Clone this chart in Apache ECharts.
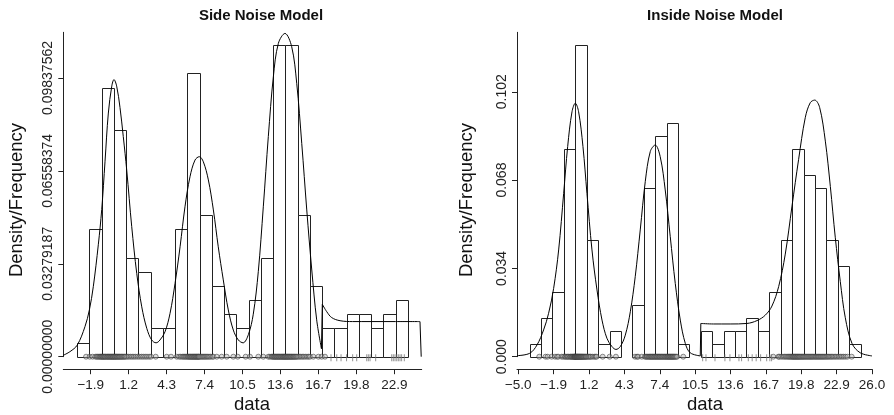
<!DOCTYPE html>
<html><head><meta charset="utf-8">
<script src="https://cdn.jsdelivr.net/npm/echarts@6/dist/echarts.min.js"></script>
<style>html,body{margin:0;padding:0;background:#fff}#c{width:894px;height:415px}</style>
</head><body><div id="c"></div>
<script>
// ---------- tick labels ----------
const sideXTicks = [-1.9, 1.2, 4.3, 7.4, 10.5, 13.6, 16.7, 19.8, 22.9];
const insideXTicks = [-5.0, -1.9, 1.2, 4.3, 7.4, 10.5, 13.6, 16.7, 19.8, 22.9, 26.0];
const sideYTicks = [0, 0.03279187, 0.06558374, 0.09837562];
const insideYTicks = [0, 0.034, 0.068, 0.102];

// ---------- Side Noise Model : histogram (bins of width 1) ----------
const sideBinStart = [-3,-2,-1,0,1,2,3,4,5,6,7,8,9,10,11,12,13,14,15,16,17,18,19,20,21,22,23];
const sideDensity  = [0.005,0.045,0.095,0.080,0.035,0.030,0.010,0.010,0.045,0.100,0.050,0.025,0.015,0.010,0.020,0.035,0.110,0.110,0.050,0.025,0.010,0.010,0.015,0.015,0.010,0.015,0.020];

// ---------- Inside Noise Model : histogram ----------
const insideBinStart = [-4,-3,-2,-1,0,1,2,3,4,5,6,7,8,9,10,11,12,13,14,15,16,17,18,19,20,21,22,23,24];
const insideDensity  = [0.005,0.015,0.025,0.080,0.120,0.045,0.005,0.010,0,0.020,0.065,0.085,0.090,0.005,0,0.010,0.005,0.010,0.010,0.015,0.010,0.025,0.045,0.080,0.070,0.065,0.045,0.035,0.005];

// ---------- fitted density curves ----------
const sideCurveA = [[-4.14,0.0005],[-3.59,0.0018],[-3.0,0.0041],[-2.37,0.0106],[-2.01,0.0165],[-1.69,0.0247],[-1.28,0.0395],[-1.0,0.0520],[-0.73,0.0690],[-0.46,0.0860],[-0.18,0.0955],[0.0,0.0978],[0.22,0.0955],[0.49,0.0880],[0.76,0.0777],[1.04,0.0659],[1.45,0.0459],[1.86,0.0294],[2.27,0.0176],[2.68,0.0100],[3.08,0.0059],[3.44,0.0049],[3.76,0.0059],[4.17,0.0088],[4.58,0.0153],[4.99,0.0259],[5.4,0.0388],[5.8,0.0529],[6.21,0.0635],[6.62,0.0694],[6.97,0.0706],[7.3,0.0688],[7.71,0.0624],[8.12,0.0518],[8.52,0.0388],[8.93,0.0271],[9.34,0.0165],[9.75,0.0094],[10.16,0.0059],[10.55,0.0049],[10.98,0.0078],[11.38,0.0150],[11.79,0.0300],[12.2,0.0529],[12.61,0.0777],[13.02,0.0988],[13.43,0.1106],[13.97,0.1141],[14.52,0.1094],[14.93,0.0965],[15.34,0.0753],[15.75,0.0518],[16.16,0.0306],[16.56,0.0130],[16.95,0.0028]];
const sideCurveB = [[17.02,0.0185],[17.38,0.0159],[17.79,0.0138],[18.47,0.0127],[19.5,0.0124],[21.0,0.0124],[23.0,0.0124],[25.0,0.0124]];
const sideJumps = [[16.95,0.0028],[17.02,0.0185],null,[25.0,0.0124],[25.1,0.0]];

const insideCurveA = [[-5.1,0.0004],[-4.0,0.0013],[-3.36,0.0045],[-2.78,0.0103],[-2.34,0.0167],[-1.9,0.0263],[-1.46,0.0411],[-1.02,0.0629],[-0.67,0.0809],[-0.29,0.0943],[0.0,0.0976],[0.29,0.0943],[0.67,0.0809],[1.02,0.0629],[1.46,0.0411],[1.9,0.0257],[2.34,0.0141],[2.77,0.0071],[3.21,0.0039],[3.56,0.0028],[3.94,0.0039],[4.38,0.0083],[4.82,0.0173],[5.25,0.0308],[5.69,0.0488],[6.13,0.0674],[6.57,0.0790],[7.0,0.0815],[7.44,0.0770],[7.88,0.0642],[8.32,0.0462],[8.76,0.0282],[9.2,0.0141],[9.64,0.0051],[10.07,0.0015],[10.95,0.0003]];
const insideCurveB = [[11.0,0.0128],[12.1,0.0126],[13.57,0.0126],[15.03,0.0128],[15.92,0.0139],[16.65,0.0160],[17.23,0.0195],[17.82,0.0270],[18.4,0.0395],[18.99,0.0580],[19.57,0.0760],[20.15,0.0920],[20.59,0.0978],[20.98,0.0988],[21.41,0.0960],[21.91,0.0830],[22.35,0.0655],[22.78,0.0460],[23.22,0.0290],[23.66,0.0150],[24.25,0.0051],[24.97,0.0015],[26.0,0.0003]];
const insideJumps = [[10.95,0.0003],[11.0,0.0128]];

// ---------- rug: cluster points (circles) and noise points (ticks) ----------
const sideRug = [-2.28,-1.98,-1.74,-1.52,-1.41,-1.33,-1.24,-1.16,-1.09,-1.03,-0.97,-0.92,-0.86,-0.81,-0.75,-0.7,-0.64,-0.57,-0.52,-0.46,-0.41,-0.35,-0.29,-0.24,-0.19,-0.13,-0.08,-0.04,0.02,0.07,0.12,0.18,0.23,0.29,0.35,0.41,0.46,0.53,0.6,0.66,0.73,0.81,0.88,0.96,1.08,1.21,1.36,1.49,1.63,1.77,1.93,2.08,2.24,2.39,2.55,2.7,2.87,3.02,3.41,
 4.31,4.66,5.13,5.32,5.45,5.58,5.67,5.76,5.85,5.93,6.02,6.08,6.14,6.2,6.26,6.31,6.37,6.42,6.48,6.53,6.58,6.63,6.68,6.73,6.78,6.83,6.88,6.92,6.96,7.03,7.12,7.21,7.3,7.39,7.48,7.58,7.67,7.77,7.88,8.02,8.12,8.4,8.8,9.21,9.75,10.11,10.76,
 11.11,11.79,12.2,12.61,12.74,12.88,12.95,13.02,13.08,13.13,13.19,13.24,13.3,13.35,13.41,13.46,13.52,13.57,13.63,13.68,13.74,13.79,13.84,13.89,13.94,13.98,14.03,14.08,14.13,14.18,14.23,14.28,14.34,14.39,14.45,14.5,14.56,14.62,14.68,14.74,14.8,14.87,14.94,15.03,15.14,15.26,15.38,15.5,15.63,15.77,15.9,16.02,16.29,16.7,16.97,17.24];
const sideNoise = [17.73,18.2,18.55,19.0,19.5,19.83,20.65,20.78,20.92,21.38,22.69,22.82,22.96,23.1,23.23,23.37,23.5,23.72];

const insideRug = [-3.16,-2.61,-2.42,-2.07,-1.78,-1.6,-1.49,-1.2,-1.06,-0.91,-0.84,-0.73,-0.66,-0.58,-0.47,-0.42,-0.35,-0.29,-0.24,-0.18,-0.13,-0.09,-0.06,-0.03,-0.01,0.02,0.05,0.09,0.12,0.15,0.19,0.22,0.26,0.3,0.33,0.37,0.41,0.45,0.49,0.53,0.57,0.62,0.66,0.71,0.76,0.81,0.87,0.92,0.97,1.05,1.13,1.21,1.3,1.37,1.52,1.66,1.78,1.87,2.4,3.01,3.56,
 5.23,5.41,5.5,5.83,6.1,6.19,6.27,6.35,6.44,6.5,6.57,6.63,6.7,6.76,6.82,6.89,6.95,7.02,7.08,7.14,7.2,7.27,7.33,7.39,7.45,7.52,7.58,7.65,7.71,7.78,7.84,7.91,7.97,8.03,8.09,8.14,8.2,8.25,8.31,8.36,8.42,8.47,8.53,8.58,8.64,8.7,8.77,8.84,8.92,9.46,
 17.35,17.79,17.88,18.05,18.2,18.33,18.45,18.56,18.66,18.75,18.84,18.92,19.0,19.06,19.12,19.18,19.24,19.3,19.36,19.42,19.48,19.54,19.6,19.66,19.73,19.8,19.87,19.94,20.01,20.09,20.17,20.25,20.33,20.41,20.49,20.57,20.65,20.73,20.81,20.9,20.99,21.07,21.15,21.24,21.32,21.4,21.49,21.57,21.66,21.74,21.83,21.92,22.02,22.12,22.22,22.33,22.44,22.56,22.68,22.81,22.94,23.08,23.22,23.37,23.52,23.68,23.85,24.22];
const insideNoise = [11.16,11.45,12.24,13.11,13.55,14.34,14.57,15.16,15.5,15.85,16.24,16.77,17.05,17.2];

// ---------- build ----------
const FONT = 'Liberation Sans, Arial, Helvetica, sans-serif';
const INK = '#222';

function histItem(params, api) {
  const x0 = api.value(0), x1 = api.value(1), h = api.value(2);
  if (!(h > 0)) return null;
  const p0 = api.coord([x0, h]);
  const p1 = api.coord([x1, 0]);
  return {
    type: 'rect',
    shape: { x: Math.round(p0[0]) + 0.5, y: Math.round(p0[1]) + 0.5, width: Math.round(p1[0]) - Math.round(p0[0]), height: Math.round(p1[1]) - Math.round(p0[1]) },
    style: { fill: '#fff', stroke: INK, lineWidth: 1 }
  };
}
function fmtX(v) { return (v < 0 ? '\u2212' : '') + Math.abs(v).toFixed(1); }

function xAxisCfg(g, min, max, ticks) {
  return {
    gridIndex: g, type: 'value', min: min, max: max, offset: 12.5,
    axisLine: { show: true, onZero: false, lineStyle: { color: INK, width: 1 } },
    axisTick: { show: true, customValues: ticks, length: 5, lineStyle: { color: INK } },
    axisLabel: { customValues: ticks, formatter: fmtX, fontSize: 13.5, color: INK, fontFamily: FONT, margin: 9, hideOverlap: false },
    splitLine: { show: false }
  };
}
function yAxisCfg(g, max, ticks, dec) {
  return {
    gridIndex: g, type: 'value', min: 0, max: max,
    axisLine: { show: true, onZero: false, lineStyle: { color: INK, width: 1 } },
    axisTick: { show: true, customValues: ticks, length: 5, lineStyle: { color: INK } },
    axisLabel: { customValues: ticks, formatter: v => v.toFixed(dec), rotate: 90, fontSize: 14, color: INK, fontFamily: FONT, margin: 8, hideOverlap: false },
    splitLine: { show: false }
  };
}

function panelSeries(idx, binStart, dens, curveA, curveB, jumps, rug, noise) {
  return [
    { type: 'custom', xAxisIndex: idx, yAxisIndex: idx, renderItem: histItem, clip: false,
      data: binStart.map((b, i) => [b, b + 1, dens[i]]), z: 1 },
    { type: 'line', xAxisIndex: idx, yAxisIndex: idx, data: curveA, smooth: 0.35, showSymbol: false,
      lineStyle: { color: '#000', width: 1 }, z: 3 },
    { type: 'line', xAxisIndex: idx, yAxisIndex: idx, data: curveB, smooth: 0.35, showSymbol: false,
      lineStyle: { color: '#000', width: 1 }, z: 3 },
    { type: 'line', xAxisIndex: idx, yAxisIndex: idx, data: jumps, smooth: false, showSymbol: false, connectNulls: false,
      lineStyle: { color: '#000', width: 1 }, z: 3 },
    { type: 'scatter', xAxisIndex: idx, yAxisIndex: idx, data: rug.map(v => [v, 0]), symbol: 'circle', symbolSize: 5,
      itemStyle: { color: 'rgba(175,175,175,0.55)', borderColor: 'rgba(50,50,50,0.85)', borderWidth: 0.8 }, z: 4 },
    { type: 'scatter', xAxisIndex: idx, yAxisIndex: idx, data: noise.map(v => [v, 0]), symbol: 'rect', symbolSize: [1, 7], symbolOffset: [0, 1],
      itemStyle: { color: '#777' }, z: 4 }
  ];
}

function txt(x, y, s, font, rot) {
  return { type: 'text', x: x, y: y, rotation: rot || 0, silent: true,
    style: { text: s, font: font, fill: '#111', align: 'center', verticalAlign: 'middle', textAlign: 'center', textVerticalAlign: 'middle' } };
}

const chart = echarts.init(document.getElementById('c'), null, { renderer: 'canvas' });
chart.setOption({
  animation: false,
  backgroundColor: '#fff',
  grid: [
    { left: 63.3, top: 32.3, width: 358.4, height: 324.4, containLabel: false, outerBoundsMode: 'none' },
    { left: 517, top: 32.3, width: 355, height: 324.4, containLabel: false, outerBoundsMode: 'none' }
  ],
  xAxis: [ xAxisCfg(0, -4.14, 25.14, sideXTicks), xAxisCfg(1, -5.11, 26.0, insideXTicks) ],
  yAxis: [ yAxisCfg(0, 0.1145, sideYTicks, 8), yAxisCfg(1, 0.1249, insideYTicks, 3) ],
  series: [].concat(
    panelSeries(0, sideBinStart, sideDensity, sideCurveA, sideCurveB, sideJumps, sideRug, sideNoise),
    panelSeries(1, insideBinStart, insideDensity, insideCurveA, insideCurveB, insideJumps, insideRug, insideNoise)
  ),
  graphic: [
    txt(261, 16, 'Side Noise Model', 'bold 15px ' + FONT),
    txt(715, 16, 'Inside Noise Model', 'bold 15px ' + FONT),
    txt(252, 405, 'data', '18.5px ' + FONT),
    txt(705, 405, 'data', '18.5px ' + FONT),
    txt(17, 200, 'Density/Frequency', '18.5px ' + FONT, Math.PI / 2),
    txt(467, 200, 'Density/Frequency', '18.5px ' + FONT, Math.PI / 2)
  ]
});
</script>
</body></html>
